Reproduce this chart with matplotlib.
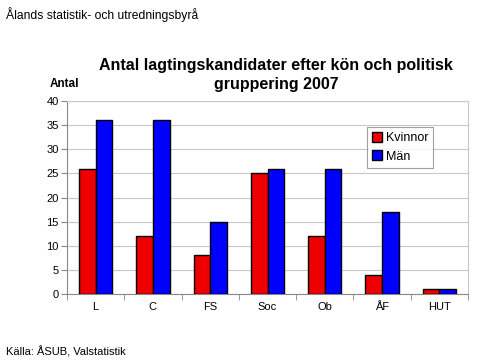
import numpy as np
import matplotlib.pyplot as plt

plt.rcParams['font.family'] = ['Liberation Sans', 'DejaVu Sans']

categories = ['L', 'C', 'FS', 'Soc', 'Ob', 'ÅF', 'HUT']
kvinnor = [26, 12, 8, 25, 12, 4, 1]
man = [36, 36, 15, 26, 26, 17, 1]

fig = plt.figure(figsize=(4.8, 3.63), dpi=100)
ax = fig.add_axes([67 / 480, 1 - 294 / 363, (468 - 67) / 480, (294 - 101) / 363])

x = np.arange(len(categories))
w = 0.29
ax.bar(x - w / 2, kvinnor, w, color='#ee0000', edgecolor='black', linewidth=1.0,
       label='Kvinnor', zorder=3)
ax.bar(x + w / 2, man, w, color='#0000ff', edgecolor='black', linewidth=1.0,
       label='Män', zorder=3)

ax.set_xlim(-0.5, len(categories) - 0.5)
ax.set_ylim(0, 40)
ax.set_yticks(range(0, 41, 5))
ax.set_xticks(x)
ax.set_xticklabels(categories, fontsize=8)
ax.tick_params(axis='x', length=0, pad=6)
ax.set_xticks(np.arange(-0.5, len(categories)), minor=True)
ax.tick_params(axis='x', which='minor', length=4, color='#888888')
ax.tick_params(axis='y', labelsize=8, length=4, color='#888888', pad=2)
ax.grid(axis='y', color='#c8c8c8', linewidth=0.8, zorder=0)

for side in ['top', 'right']:
    ax.spines[side].set_color('#c8c8c8')
for side in ['left', 'bottom']:
    ax.spines[side].set_color('#888888')

leg = ax.legend(loc='upper right', bbox_to_anchor=(0.913, 0.865), fontsize=9,
                frameon=True, fancybox=False, edgecolor='#888888',
                handlelength=0.8, handleheight=0.8, handletextpad=0.3,
                borderpad=0.4, labelspacing=0.5, borderaxespad=0)
leg.get_frame().set_linewidth(0.8)

fig.text(6 / 480, 1 - 15 / 363, 'Ålands statistik- och utredningsbyrå',
         fontsize=8.7, va='center', ha='left')
fig.text(276 / 480, 1 - 75 / 363,
         'Antal lagtingskandidater efter kön och politisk\ngruppering 2007',
         fontsize=11.5, fontweight='bold', ha='center', va='center', linespacing=1.3)
fig.text(64 / 480, 1 - 84 / 363, 'Antal', fontsize=8.5, fontweight='bold',
         ha='center', va='center')
fig.text(6 / 480, 1 - 352 / 363, 'Källa: ÅSUB, Valstatistik',
         fontsize=8, va='center', ha='left')

plt.savefig('out.png', dpi=100)
